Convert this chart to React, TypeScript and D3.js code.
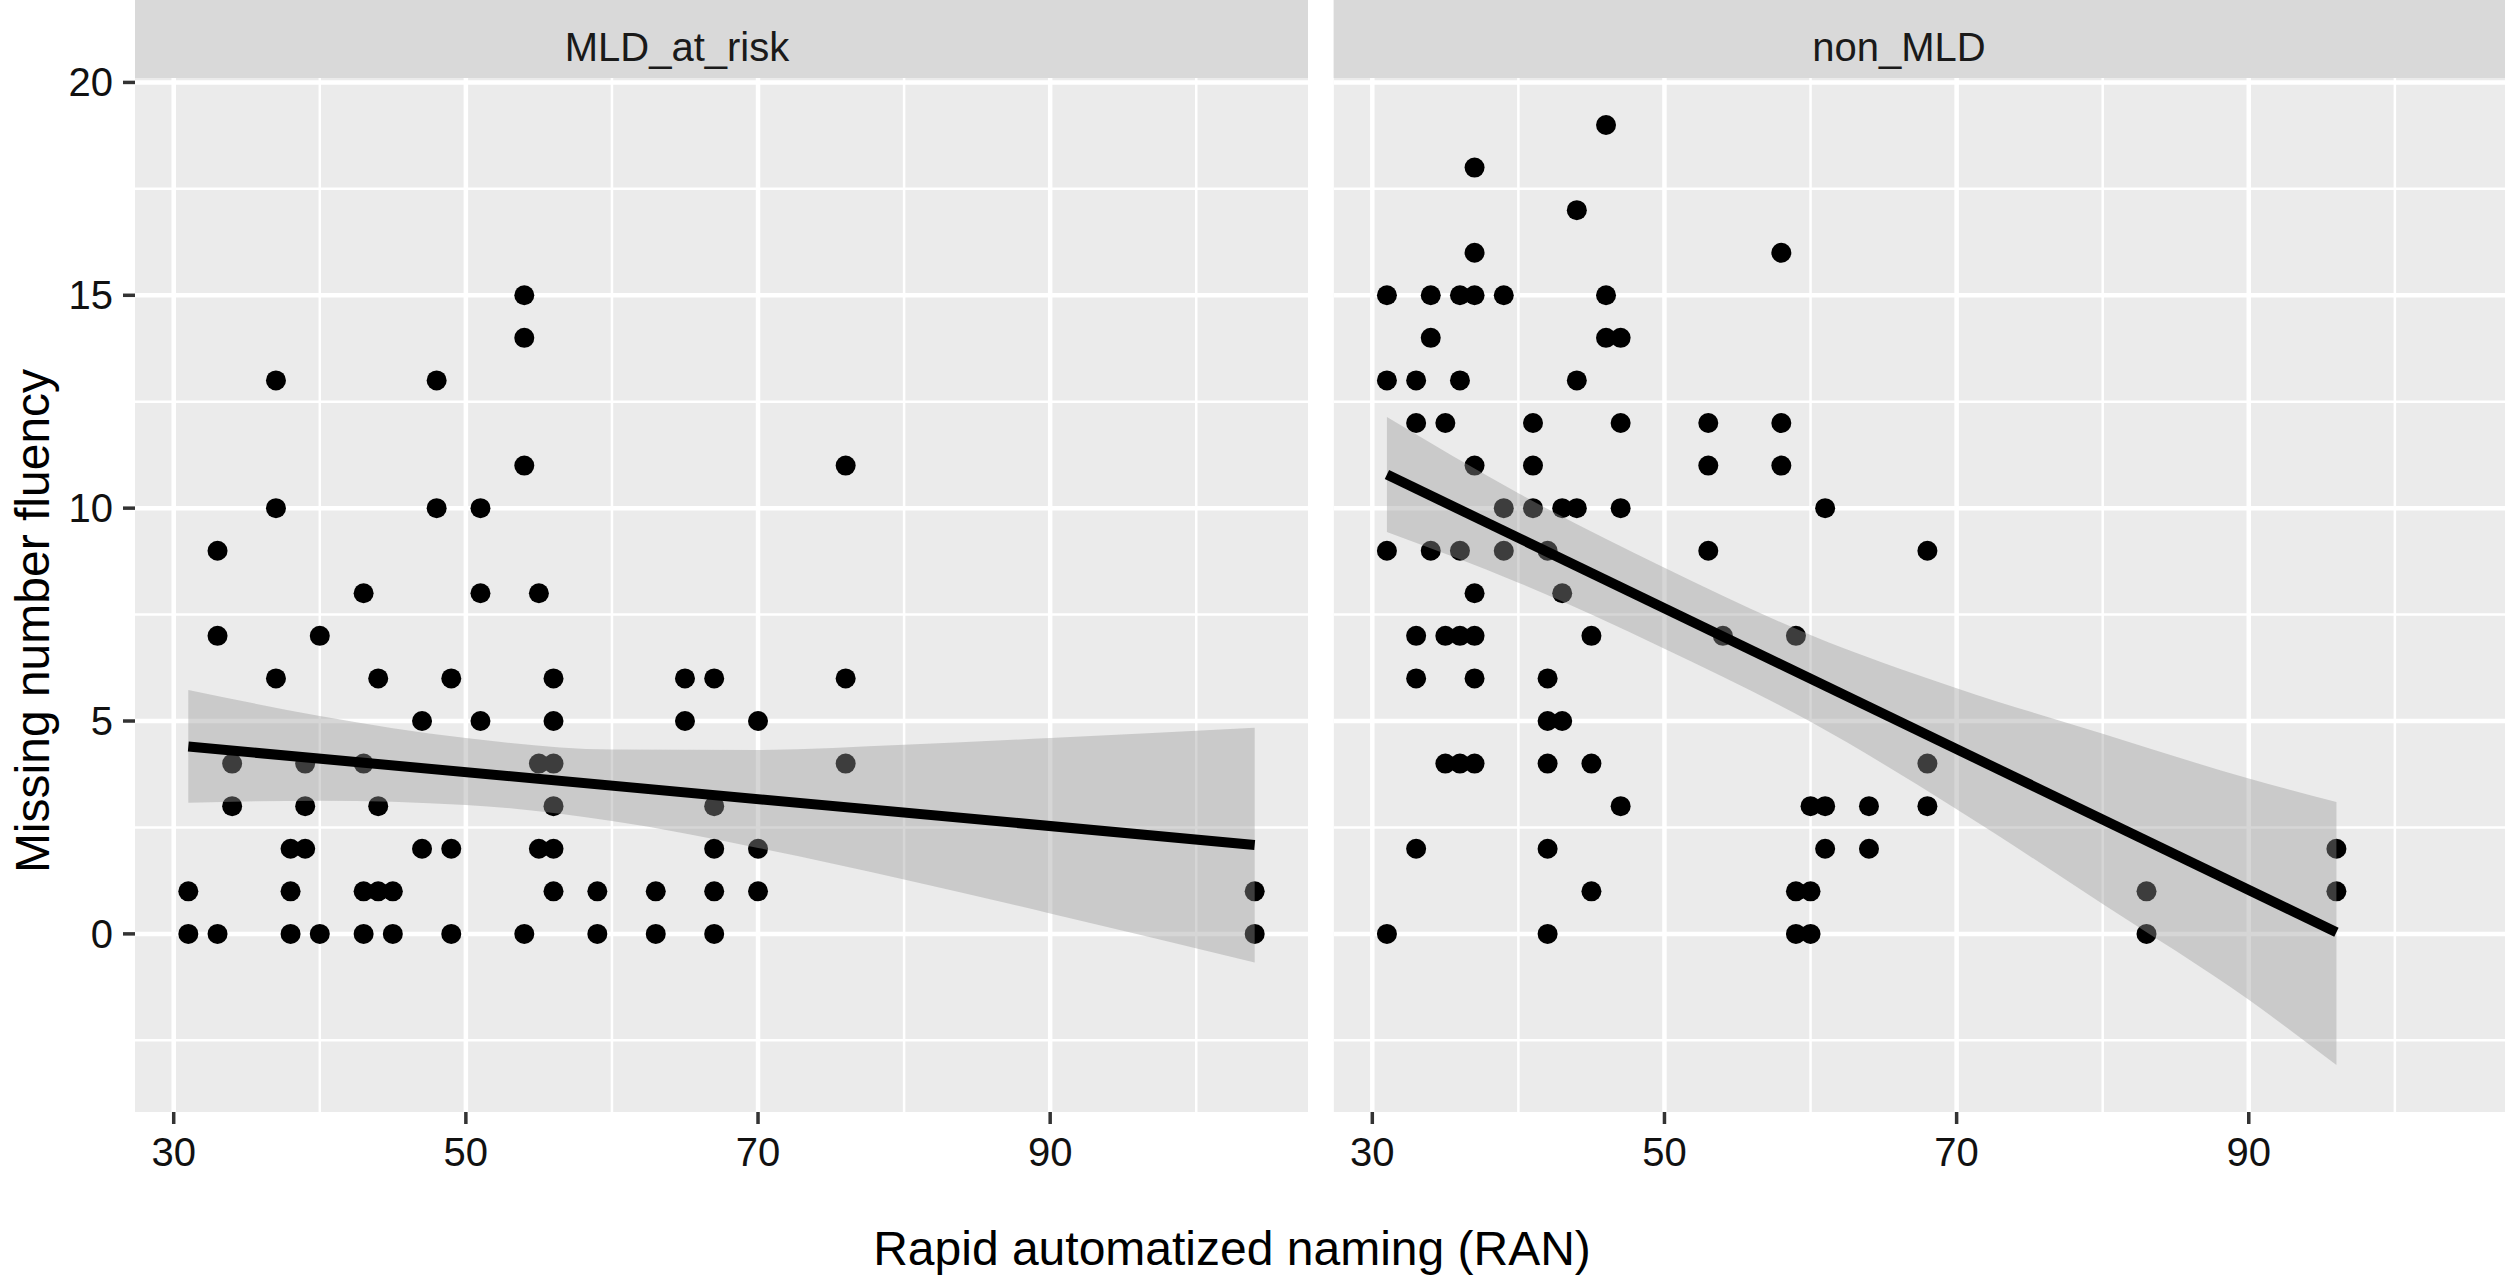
import * as d3 from "d3";

// facet labels
const panels = ["MLD_at_risk", "non_MLD"];

// (RAN, missing number fluency) per group
const mldPoints: [number, number][] = [
  [31, 1], [31, 0], [33, 9], [33, 7], [33, 0], [34, 4], [34, 3],
  [37, 13], [37, 10], [37, 6], [38, 2], [38, 1], [38, 0],
  [39, 4], [39, 3], [39, 2], [40, 7], [40, 0],
  [43, 8], [43, 4], [43, 1], [43, 0], [44, 6], [44, 3], [44, 1],
  [45, 1], [45, 0], [47, 5], [47, 2], [48, 13], [48, 10],
  [49, 6], [49, 2], [49, 0], [51, 10], [51, 8], [51, 5],
  [54, 15], [54, 14], [54, 11], [54, 0], [55, 8], [55, 4], [55, 2],
  [56, 6], [56, 5], [56, 4], [56, 3], [56, 2], [56, 1],
  [59, 1], [59, 0], [63, 1], [63, 0], [65, 6], [65, 5],
  [67, 6], [67, 3], [67, 2], [67, 1], [67, 0], [70, 5], [70, 2], [70, 1],
  [76, 11], [76, 6], [76, 4], [104, 1], [104, 0],
];

const nonMldPoints: [number, number][] = [
  [31, 15], [31, 13], [31, 9], [31, 0],
  [33, 13], [33, 12], [33, 7], [33, 6], [33, 2],
  [34, 15], [34, 14], [34, 9], [35, 12], [35, 7], [35, 4],
  [36, 15], [36, 13], [36, 9], [36, 7], [36, 4],
  [37, 18], [37, 16], [37, 15], [37, 11], [37, 8], [37, 7], [37, 6], [37, 4],
  [39, 15], [39, 10], [39, 9], [41, 12], [41, 11], [41, 10],
  [42, 9], [42, 6], [42, 5], [42, 4], [42, 2], [42, 0],
  [43, 10], [43, 8], [43, 5], [44, 17], [44, 13], [44, 10],
  [45, 7], [45, 4], [45, 1], [46, 19], [46, 15], [46, 14],
  [47, 14], [47, 12], [47, 10], [47, 3], [53, 12], [53, 11], [53, 9],
  [54, 7], [58, 16], [58, 12], [58, 11], [59, 7], [59, 1], [59, 0],
  [60, 3], [60, 1], [60, 0], [61, 10], [61, 3], [61, 2],
  [64, 3], [64, 2], [68, 9], [68, 4], [68, 3], [83, 1], [83, 0],
  [96, 2], [96, 1],
];

// linear fit (geom_smooth, method = "lm")
const mldFitX = [31, 104];
const mldFitY = [4.4, 2.09];
const mldBandX = [31, 40, 50, 60, 70, 80, 90, 104];
const mldBandLo = [3.08, 3.13, 3.03, 2.65, 2.02, 1.28, 0.48, -0.67];
const mldBandHi = [5.73, 5.12, 4.6, 4.33, 4.32, 4.44, 4.6, 4.84];

const nonFitX = [31, 96];
const nonFitY = [10.79, 0.04];
const nonBandX = [31, 40, 50, 60, 70, 80, 90, 96];
const nonBandLo = [9.44, 8.25, 6.7, 4.98, 2.93, 0.7, -1.55, -3.08];
const nonBandHi = [12.14, 10.35, 8.6, 7.02, 5.77, 4.7, 3.65, 3.1];

const groups = [mldPoints, nonMldPoints];
const fits = [
  { x: mldFitX, y: mldFitY, bx: mldBandX, lo: mldBandLo, hi: mldBandHi },
  { x: nonFitX, y: nonFitY, bx: nonBandX, lo: nonBandLo, hi: nonBandHi },
];

const xMajor = [30, 50, 70, 90];
const xMinor = [40, 60, 80, 100];
const yMajor = [0, 5, 10, 15, 20];
const yMinor = [-2.5, 2.5, 7.5, 12.5, 17.5];

const xTitle = "Rapid automatized naming (RAN)";
const yTitle = "Missing number fluency";

const W = 2505;
const H = 1278;
const panelX: [number, number][] = [[135, 1308], [1333.6, 2506.6]];
const stripLabelX = [677, 1899];
const panelTop = 78;
const panelBottom = 1112;
const font = "'Liberation Sans', Arial, Helvetica, sans-serif";

function expand([lo, hi]: [number, number]): [number, number] {
  const pad = (hi - lo) * 0.05;
  return [lo - pad, hi + pad];
}

export default function App() {
  const allX = groups.flat().map((p) => p[0]);
  const allY = [
    ...groups.flat().map((p) => p[1]),
    ...fits.flatMap((f) => [...f.lo, ...f.hi]),
  ];
  const xDomain = expand(d3.extent(allX) as [number, number]);
  const yDomain = expand(d3.extent(allY) as [number, number]);
  const y = d3.scaleLinear().domain(yDomain).range([panelBottom, panelTop]);

  return (
    <svg
      width={W}
      height={H}
      style={{ position: "absolute", left: 0, top: 0, display: "block", background: "#fff" }}
      fontFamily={font}
    >
      <defs>
        {panels.map((_p, i) => (
          <clipPath id={"clip" + i} key={i}>
            <rect x={panelX[i][0]} y={panelTop} width={panelX[i][1] - panelX[i][0]} height={panelBottom - panelTop} />
          </clipPath>
        ))}
      </defs>

      {panels.map((label, i) => {
        const x = d3.scaleLinear().domain(xDomain).range(panelX[i]);
        const f = fits[i];
        const area = d3
          .area<number>()
          .x((d) => x(d))
          .y0((_d, j) => y(f.lo[j]))
          .y1((_d, j) => y(f.hi[j]))
          .curve(d3.curveMonotoneX);
        const line = d3
          .line<number>()
          .x((d) => x(d))
          .y((_d, j) => y(f.y[j]));
        const [left, right] = panelX[i];
        return (
          <g key={label}>
            {/* strip */}
            <rect x={left} y={0} width={right - left} height={panelTop} fill="#D9D9D9" />
            <text x={stripLabelX[i]} y={61} textAnchor="middle" fontSize={40} fill="#1A1A1A">
              {label}
            </text>

            {/* panel */}
            <g clipPath={`url(#clip${i})`}>
              <rect x={left} y={panelTop} width={right - left} height={panelBottom - panelTop} fill="#EBEBEB" />
              {yMinor.map((v) => (
                <line key={"ym" + v} x1={left} x2={right} y1={y(v)} y2={y(v)} stroke="#fff" strokeWidth={2.5} />
              ))}
              {xMinor.map((v) => (
                <line key={"xm" + v} x1={x(v)} x2={x(v)} y1={panelTop} y2={panelBottom} stroke="#fff" strokeWidth={2.5} />
              ))}
              {yMajor.map((v) => (
                <line key={"yM" + v} x1={left} x2={right} y1={y(v)} y2={y(v)} stroke="#fff" strokeWidth={4.5} />
              ))}
              {xMajor.map((v) => (
                <line key={"xM" + v} x1={x(v)} x2={x(v)} y1={panelTop} y2={panelBottom} stroke="#fff" strokeWidth={4.5} />
              ))}
              {groups[i].map((p, j) => (
                <circle key={j} cx={x(p[0])} cy={y(p[1])} r={10} fill="#000" />
              ))}
              <path d={area(f.bx) ?? ""} fill="#999999" fillOpacity={0.4} />
              <path d={line(f.x) ?? ""} fill="none" stroke="#000" strokeWidth={10} />
            </g>

            {/* x axis */}
            {xMajor.map((v) => (
              <g key={"xt" + v}>
                <line x1={x(v)} x2={x(v)} y1={panelBottom} y2={panelBottom + 12} stroke="#333" strokeWidth={3.5} />
                <text x={x(v)} y={1166} textAnchor="middle" fontSize={40} fill="#111">
                  {v}
                </text>
              </g>
            ))}
          </g>
        );
      })}

      {/* y axis on the first panel */}
      {yMajor.map((v) => (
        <g key={"yt" + v}>
          <line x1={panelX[0][0] - 12} x2={panelX[0][0]} y1={y(v)} y2={y(v)} stroke="#333" strokeWidth={3.5} />
          <text x={113} y={y(v) + 14} textAnchor="end" fontSize={40} fill="#111">
            {v}
          </text>
        </g>
      ))}

      <text x={1232} y={1265} textAnchor="middle" fontSize={48} fill="#000">
        {xTitle}
      </text>
      <text transform="translate(49,621) rotate(-90)" textAnchor="middle" fontSize={48} fill="#000">
        {yTitle}
      </text>
    </svg>
  );
}
